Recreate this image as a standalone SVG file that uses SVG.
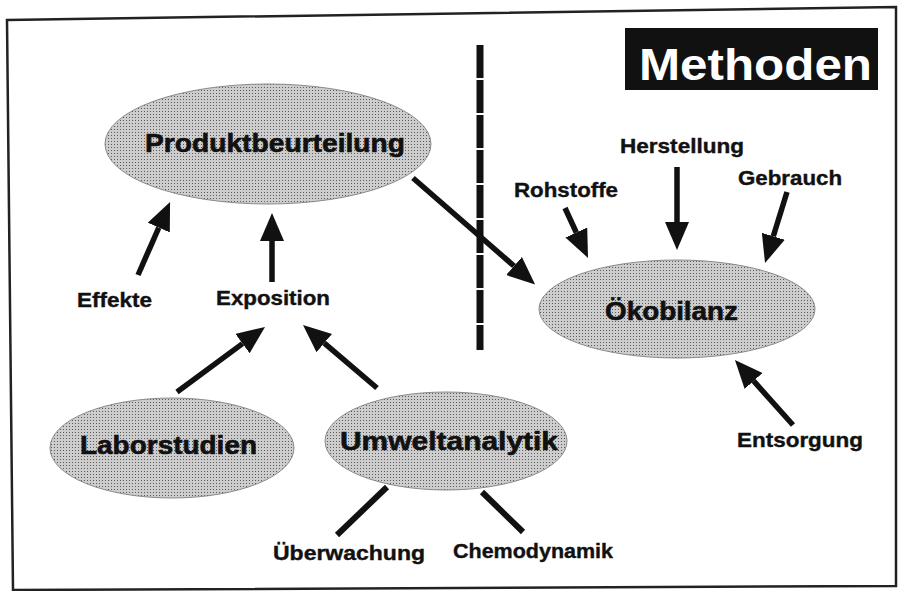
<svg xmlns="http://www.w3.org/2000/svg" width="899" height="591" viewBox="0 0 899 591">
<style>
.node ellipse{fill:url(#stipple);stroke:#8a8a8a;stroke-width:1}
.big{font-family:"Liberation Sans",Arial,sans-serif;font-weight:bold;font-size:26px;fill:#111;stroke:#111;stroke-width:0.6}
.lbl{font-family:"Liberation Sans",Arial,sans-serif;font-weight:bold;font-size:21px;fill:#111;stroke:#111;stroke-width:0.4}
.title{font-family:"Liberation Sans",Arial,sans-serif;font-weight:bold;font-size:45px;fill:#fff}
.arr{stroke:#111;stroke-width:5.5;fill:none;marker-end:url(#head)}
.ln{stroke:#111;stroke-width:6;fill:none}
</style>
<defs>
<pattern id="stipple" width="3" height="3" patternUnits="userSpaceOnUse">
<rect width="3" height="3" fill="#cdcdcd"/>
<rect x="0" y="0" width="1" height="1" fill="#5a5a5a"/>
</pattern>
<marker id="head" markerUnits="userSpaceOnUse" markerWidth="29" markerHeight="24" refX="0" refY="12" orient="auto">
<path d="M0,0 L28,12 L0,24 z" fill="#111"/>
</marker>
</defs>
<rect width="899" height="591" fill="#fff"/>
<polygon points="7,20 896,7 896,586 13,590" fill="none" stroke="#222" stroke-width="2.5"/>

<g id="title">
<rect x="625" y="28" width="253" height="62" fill="#111"/>
<text class="title" x="639" y="80" textLength="233" lengthAdjust="spacingAndGlyphs">Methoden</text>
</g>

<g id="divider">
<line x1="480" y1="45" x2="480" y2="350" stroke="#111" stroke-width="7" stroke-dasharray="33 2"/>
</g>

<g id="produktbeurteilung" class="node">
<ellipse cx="268" cy="144" rx="163" ry="60"/>
<text class="big" x="145" y="152" textLength="260" lengthAdjust="spacingAndGlyphs">Produktbeurteilung</text>
</g>
<g id="oekobilanz" class="node">
<ellipse cx="677" cy="309" rx="138" ry="49"/>
<text class="big" x="605" y="320" font-size="27" textLength="133" lengthAdjust="spacingAndGlyphs">Ökobilanz</text>
</g>
<g id="laborstudien" class="node">
<ellipse cx="172" cy="448" rx="122" ry="50"/>
<text class="big" x="80" y="454" textLength="177" lengthAdjust="spacingAndGlyphs">Laborstudien</text>
</g>
<g id="umweltanalytik" class="node">
<ellipse cx="446" cy="441" rx="121" ry="49"/>
<text class="big" x="340" y="450" textLength="218" lengthAdjust="spacingAndGlyphs">Umweltanalytik</text>
</g>

<g id="effekte"><text class="lbl" x="77" y="307" textLength="75" lengthAdjust="spacingAndGlyphs">Effekte</text></g>
<g id="exposition"><text class="lbl" x="216" y="305" textLength="114" lengthAdjust="spacingAndGlyphs">Exposition</text></g>
<g id="rohstoffe"><text class="lbl" x="514" y="197" textLength="104" lengthAdjust="spacingAndGlyphs">Rohstoffe</text></g>
<g id="herstellung"><text class="lbl" x="620" y="153" textLength="124" lengthAdjust="spacingAndGlyphs">Herstellung</text></g>
<g id="gebrauch"><text class="lbl" x="738" y="185" textLength="104" lengthAdjust="spacingAndGlyphs">Gebrauch</text></g>
<g id="entsorgung"><text class="lbl" x="737" y="447" textLength="126" lengthAdjust="spacingAndGlyphs">Entsorgung</text></g>
<g id="ueberwachung"><text class="lbl" x="273" y="560" textLength="152" lengthAdjust="spacingAndGlyphs">Überwachung</text></g>
<g id="chemodynamik"><text class="lbl" x="453" y="558" textLength="160" lengthAdjust="spacingAndGlyphs">Chemodynamik</text></g>

<g id="connectors">
<line class="arr" x1="138" y1="275" x2="158.8" y2="227.6"/>
<line class="arr" x1="272" y1="282" x2="272" y2="241"/>
<line class="arr" x1="177" y1="392" x2="242.5" y2="343.6"/>
<line class="arr" x1="377" y1="388" x2="324.3" y2="343.1"/>
<line class="arr" x1="413" y1="178" x2="514" y2="266"/>
<line class="arr" x1="565" y1="208" x2="576.3" y2="232.5"/>
<line class="arr" x1="677" y1="167" x2="677" y2="222"/>
<line class="arr" x1="787" y1="192" x2="773.3" y2="236.3"/>
<line class="arr" x1="793" y1="425" x2="753.6" y2="380.9"/>
<line class="ln" x1="387" y1="487" x2="337" y2="535"/>
<line class="ln" x1="482" y1="492" x2="523" y2="532"/>
</g>
</svg>
